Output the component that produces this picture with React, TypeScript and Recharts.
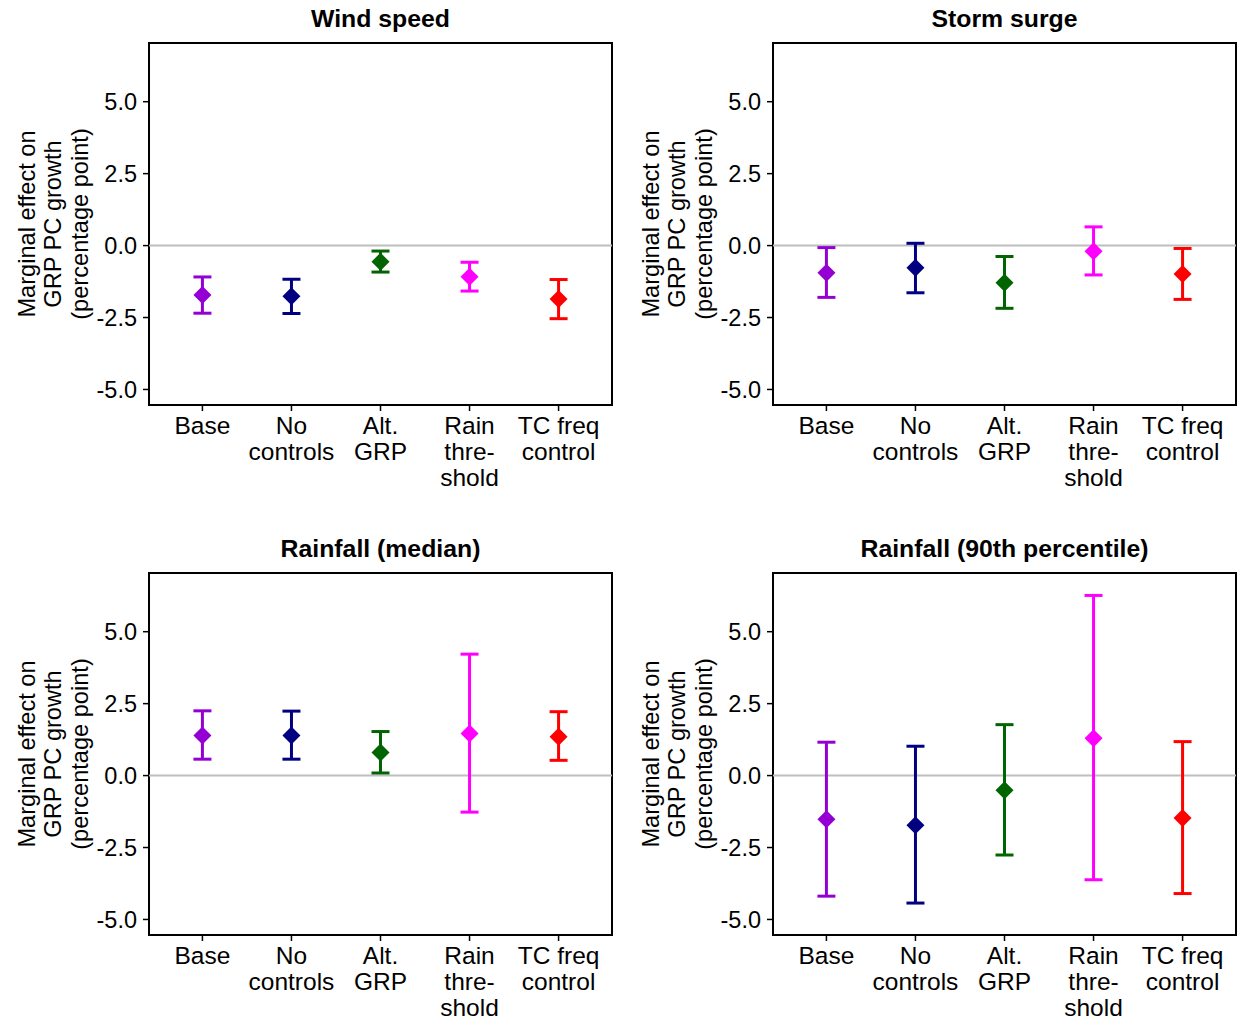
import React from 'react';
import {
  ScatterChart,
  Scatter,
  XAxis,
  YAxis,
  ErrorBar,
  ReferenceLine,
  ReferenceArea,
  Customized,
} from 'recharts';

// ---- data ----
const categories = ['Base', 'No controls', 'Alt. GRP', 'Rain threshold', 'TC freq control'];
const categoryLines = [['Base'], ['No', 'controls'], ['Alt.', 'GRP'], ['Rain', 'thre-', 'shold'], ['TC freq', 'control']];
const categoryColors = ['#9400D3', '#000080', '#006400', '#FF00FF', '#FF0000'];
const yTicks = [-5, -2.5, 0, 2.5, 5];
const yDomain = [-5.54, 7.04];

const windEst = [-1.72, -1.76, -0.56, -1.08, -1.86];
const windLo = [-2.35, -2.36, -0.92, -1.58, -2.54];
const windHi = [-1.09, -1.17, -0.19, -0.58, -1.18];

const surgeEst = [-0.94, -0.77, -1.29, -0.2, -0.99];
const surgeLo = [-1.8, -1.64, -2.18, -1.02, -1.87];
const surgeHi = [-0.07, 0.08, -0.38, 0.65, -0.1];

const rainMedEst = [1.39, 1.39, 0.8, 1.46, 1.35];
const rainMedLo = [0.57, 0.57, 0.09, -1.27, 0.53];
const rainMedHi = [2.25, 2.24, 1.53, 4.22, 2.22];

const rain90Est = [-1.52, -1.73, -0.51, 1.3, -1.47];
const rain90Lo = [-4.19, -4.43, -2.76, -3.62, -4.1];
const rain90Hi = [1.16, 1.02, 1.77, 6.26, 1.18];

const panels = [
  { title: 'Wind speed', est: windEst, lo: windLo, hi: windHi, left: 0, top: 0 },
  { title: 'Storm surge', est: surgeEst, lo: surgeLo, hi: surgeHi, left: 624, top: 0 },
  { title: 'Rainfall (median)', est: rainMedEst, lo: rainMedLo, hi: rainMedHi, left: 0, top: 530 },
  { title: 'Rainfall (90th percentile)', est: rain90Est, lo: rain90Lo, hi: rain90Hi, left: 624, top: 530 },
];

const FONT = '"Liberation Sans", Arial, Helvetica, sans-serif';
const CHART_W = 614;
const CHART_H = 530;
const MARGIN = { top: 43, right: 2, left: 0, bottom: 0 };
const YAXIS_W = 149;
const XAXIS_H = 125;

const Diamond = (props: any) => {
  const { cx, cy, fill } = props;
  if (cx == null || cy == null) return null;
  const w = 9;
  const h = 9;
  return <polygon points={`${cx},${cy - h} ${cx + w},${cy} ${cx},${cy + h} ${cx - w},${cy}`} fill={fill} />;
};

const XTick = (props: any) => {
  const { x, y, payload } = props;
  const idx = Math.round(payload.value) - 1;
  const lines = categoryLines[idx] || [];
  return (
    <text x={x} y={y} textAnchor="middle" fill="#000" fontSize={24.5} fontFamily={FONT}>
      {lines.map((l, i) => (
        <tspan key={i} x={x} dy={i === 0 ? 20.5 : 26}>
          {l}
        </tspan>
      ))}
    </text>
  );
};

const Decorations = ({ title }: { title: string }) => {
  const plotLeft = YAXIS_W;
  const plotRight = CHART_W - MARGIN.right;
  const cx = (plotLeft + plotRight) / 2;
  const cy = (43 + 405) / 2;
  return (
    <g>
      <text x={cx} y={27} textAnchor="middle" fontSize={24.8} fontWeight="bold" fontFamily={FONT} fill="#000">
        {title}
      </text>
      <text
        transform={`translate(34.5, ${cy}) rotate(-90)`}
        textAnchor="middle"
        fontSize={23.6}
        fontFamily={FONT}
        fill="#000"
      >
        <tspan x={0} dy={0}>Marginal effect on</tspan>
        <tspan x={0} dy={26.5}>GRP PC growth</tspan>
        <tspan x={0} dy={26.5}>(percentage point)</tspan>
      </text>
    </g>
  );
};

const Panel = ({ p }: { p: (typeof panels)[number] }) => {
  return (
    <div style={{ position: 'absolute', left: p.left, top: p.top, width: CHART_W, height: CHART_H }}>
      <ScatterChart width={CHART_W} height={CHART_H} margin={MARGIN}>
        <XAxis
          type="number"
          dataKey="x"
          domain={[0.4, 5.6]}
          ticks={[1, 2, 3, 4, 5]}
          allowDataOverflow
          height={XAXIS_H}
          axisLine={false}
          tickSize={6}
          tickMargin={2}
          tickLine={{ stroke: '#000', strokeWidth: 1.5 }}
          tick={<XTick />}
          interval={0}
        />
        <YAxis
          type="number"
          dataKey="y"
          domain={yDomain}
          ticks={yTicks}
          allowDataOverflow
          width={YAXIS_W}
          axisLine={false}
          tickSize={6}
          tickMargin={6}
          tickLine={{ stroke: '#000', strokeWidth: 1.5 }}
          tick={{ fill: '#000', fontSize: 23.5, fontFamily: FONT }}
          tickFormatter={(v: number) => v.toFixed(1)}
          interval={0}
        />
        <ReferenceLine y={0} stroke="#BEBEBE" strokeWidth={2} ifOverflow="visible" />
        {categories.map((c, i) => (
          <Scatter
            key={c}
            name={c}
            data={[{ x: i + 1, y: p.est[i], err: [p.est[i] - p.lo[i], p.hi[i] - p.est[i]] }]}
            fill={categoryColors[i]}
            shape={<Diamond />}
            isAnimationActive={false}
          >
            <ErrorBar dataKey="err" direction="y" width={9} stroke={categoryColors[i]} strokeWidth={3} isAnimationActive={false} />
          </Scatter>
        ))}
        <ReferenceArea
          x1={0.4}
          x2={5.6}
          y1={yDomain[0]}
          y2={yDomain[1]}
          fill="none"
          fillOpacity={0}
          stroke="#000"
          strokeWidth={2}
          strokeOpacity={1}
          ifOverflow="visible"
        />
        <Customized component={<Decorations title={p.title} />} />
      </ScatterChart>
    </div>
  );
}

export default function App() {
  return (
    <div style={{ position: 'absolute', left: 0, top: 0, width: 1238, height: 1018, background: '#fff', overflow: 'hidden' }}>
      {panels.map((p) => (
        <Panel key={p.title} p={p} />
      ))}
    </div>
  );
}
